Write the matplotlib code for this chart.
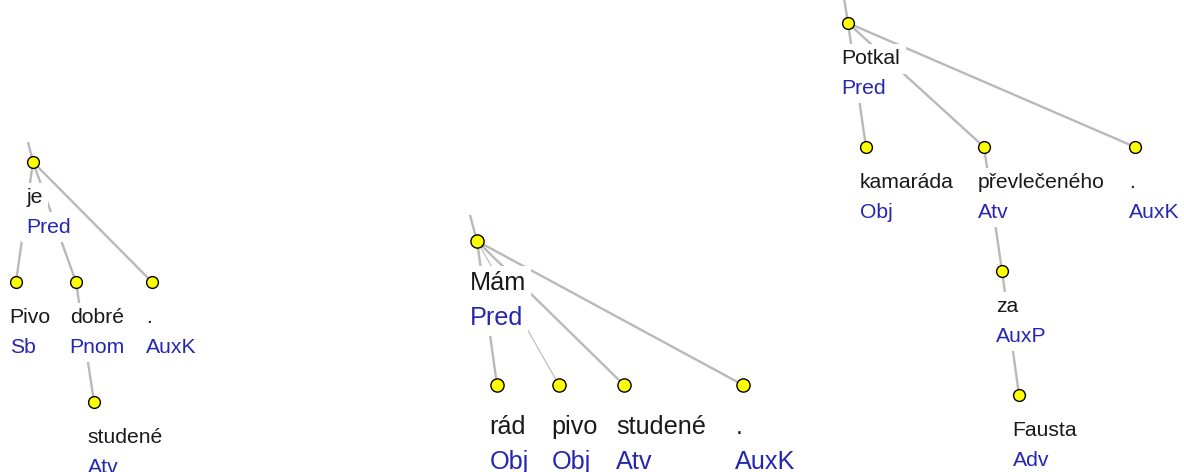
import matplotlib
matplotlib.use('Agg')
import matplotlib.pyplot as plt

plt.rcParams['font.family'] = ['Liberation Sans', 'DejaVu Sans']

# tree 1: "Pivo je dobré studené ."
t1_words = ['je', 'Pivo', 'dobré', '.', 'studené']
t1_funcs = ['Pred', 'Sb', 'Pnom', 'AuxK', 'Atv']
t1_parent = [None, 0, 0, 0, 2]
t1_x = [33, 16, 76, 152, 94]
t1_depth = [0, 1, 1, 1, 2]

# tree 2: "Mám rád pivo studené ."
t2_words = ['Mám', 'rád', 'pivo', 'studené', '.']
t2_funcs = ['Pred', 'Obj', 'Obj', 'Atv', 'AuxK']
t2_parent = [None, 0, 0, 0, 0]
t2_x = [477, 497, 559, 624, 743]
t2_depth = [0, 1, 1, 1, 1]

# tree 3: "Potkal kamaráda převlečeného za Fausta ."
t3_words = ['Potkal', 'kamaráda', 'převlečeného', '.', 'za', 'Fausta']
t3_funcs = ['Pred', 'Obj', 'Atv', 'AuxK', 'AuxP', 'Adv']
t3_parent = [None, 0, 0, 0, 2, 4]
t3_x = [848, 866, 984, 1135, 1002, 1019]
t3_depth = [0, 1, 1, 1, 2, 3]

trees = [
    # words, funcs, parent, x, depth, top y, level step, font px, marker, stub start, thin edges
    (t1_words, t1_funcs, t1_parent, t1_x, t1_depth, 162, 120, 21.2, 8.5, (28, 142), []),
    (t2_words, t2_funcs, t2_parent, t2_x, t2_depth, 241, 144, 25.3, 9.5, (470, 215), [2]),
    (t3_words, t3_funcs, t3_parent, t3_x, t3_depth, 23, 124, 21.2, 8.5, (844, -2), []),
]

W, H = 1184, 472
fig = plt.figure(figsize=(W / 100, H / 100), dpi=100)
ax = fig.add_axes([0, 0, 1, 1])
ax.set_xlim(0, W)
ax.set_ylim(H, 0)
ax.axis('off')

edge_col = '#b9b9b9'
word_col = '#1a1a1a'
func_col = '#2626b0'

for words, funcs, parent, xs, depth, top, step, fpx, ms, stub, thin in trees:
    ys = [top + d * step for d in depth]
    fs = fpx * 72 / 100
    # line to the (cut off) governing node
    ax.plot([stub[0], xs[0]], [stub[1], ys[0]], color=edge_col, lw=1.7,
            solid_capstyle='butt', zorder=1)
    for i, p in enumerate(parent):
        if p is None:
            continue
        lw = 0.8 if i in thin else 1.7
        ax.plot([xs[p], xs[i]], [ys[p], ys[i]], color=edge_col, lw=lw,
                solid_capstyle='butt', zorder=1)
    for i in range(len(words)):
        lx = xs[i] - 0.3 * fpx
        base = ys[i] + 1.95 * fpx
        box = dict(facecolor='white', edgecolor='none', pad=3.8)
        ax.text(lx, base, words[i], fontsize=fs, color=word_col,
                va='baseline', ha='left', bbox=box, zorder=2)
        ax.text(lx, base + 1.38 * fpx, funcs[i], fontsize=fs, color=func_col,
                va='baseline', ha='left', bbox=box, zorder=2)
    ax.plot(xs, ys, 'o', ms=ms, mfc='#ffff00', mec='black', mew=1.0,
            linestyle='none', zorder=3)

fig.savefig('out.png', dpi=100)
